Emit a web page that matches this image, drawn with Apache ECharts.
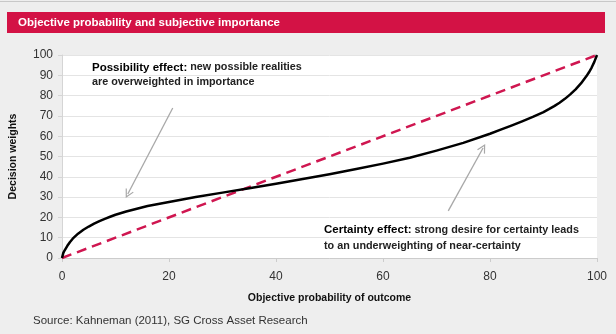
<!DOCTYPE html>
<html>
<head>
<meta charset="utf-8">
<script src="https://cdn.jsdelivr.net/npm/echarts@6/dist/echarts.min.js"></script>
<style>
html,body{margin:0;padding:0;background:#eeeeee;}
#c{width:616px;height:334px;}
</style>
</head>
<body>
<div id="c"></div>
<script>
// ---- data ----
var titleText = 'Objective probability and subjective importance';
var xAxisName = 'Objective probability of outcome';
var yAxisName = 'Decision weights';
var sourceText = 'Source: Kahneman (2011), SG Cross Asset Research';

var probX = [0, 0.25, 0.5, 1, 1.5, 2, 3, 4, 5, 6, 7, 8, 9, 10, 12, 14, 16, 18, 20, 25, 30, 35, 40, 45, 50, 55, 60, 65, 70, 75, 80, 82, 84, 86, 88, 90, 91, 92, 93, 94, 95, 96, 97, 98, 98.5, 99, 99.5, 100];
var weightY = [0, 2.5, 3.8, 6, 7.9, 9.5, 12, 13.9, 15.5, 16.9, 18.2, 19.3, 20.3, 21.3, 22.9, 24.3, 25.6, 26.6, 27.6, 30.0, 32.2, 34.4, 36.6, 38.9, 41.3, 43.8, 46.5, 49.4, 52.9, 56.7, 61.2, 63.2, 65.2, 67.3, 69.5, 71.9, 73.3, 74.8, 76.5, 78.4, 80.6, 83.1, 86.0, 89.5, 91.5, 93.8, 96.6, 100];
var diagX = [0, 100];
var diagY = [0, 100];

var possArrow = [[20.7, 73.9], [12.3, 31.5]];
var certArrow = [[72.2, 23.2], [78.7, 54.2]];

var possBold = 'Possibility effect:';
var possRest1 = ' new possible realities';
var possLine2 = 'are overweighted in importance';
var certBold = 'Certainty effect:';
var certRest1 = ' strong desire for certainty leads';
var certLine2 = 'to an underweighting of near-certainty';

// ---- chart ----
var sans = '"Liberation Sans", Arial, sans-serif';
var chart = echarts.init(document.getElementById('c'), null, {renderer: 'canvas'});

function pairs(xs, ys) { return xs.map(function (x, i) { return [x, ys[i]]; }); }

var chevron = 'path://M0,0 L5.5,10 L4.2,10.6 L0,3 L-4.2,10.6 L-5.5,10 Z';

function arrowLine(a) {
  return [
    {coord: a[0], symbol: 'none'},
    {coord: a[1], symbol: chevron, symbolSize: [9, 9]}
  ];
}

chart.setOption({
  backgroundColor: '#eeeeee',
  animation: false,
  grid: {left: 61, right: 19, top: 55, bottom: 76, show: true, backgroundColor: '#ffffff', borderWidth: 0},
  xAxis: {
    type: 'value', min: 0, max: 100, interval: 20,
    name: xAxisName, nameLocation: 'middle', nameGap: 35,
    nameTextStyle: {fontFamily: sans, fontWeight: 'bold', fontSize: 10.5, color: '#111'},
    axisLine: {show: true, lineStyle: {color: '#cccccc', width: 1}},
    axisTick: {show: true, length: 4, lineStyle: {color: '#cccccc'}},
    axisLabel: {color: '#333', fontSize: 12, margin: 13, fontFamily: sans},
    splitLine: {show: false}
  },
  yAxis: {
    type: 'value', min: 0, max: 100, interval: 10,
    name: yAxisName, nameLocation: 'middle', nameGap: 43, nameRotate: 90,
    nameTextStyle: {fontFamily: sans, fontWeight: 'bold', fontSize: 10.5, color: '#111'},
    axisLine: {show: true, lineStyle: {color: '#d5d5d5', width: 1}},
    axisTick: {show: true, length: 4, lineStyle: {color: '#d5d5d5'}},
    axisLabel: {color: '#333', fontSize: 12, margin: 9, fontFamily: sans},
    splitLine: {show: true, lineStyle: {color: '#e4e4e4', width: 1}}
  },
  series: [
    {
      name: 'Objective', type: 'line', data: pairs(diagX, diagY), showSymbol: false,
      lineStyle: {color: '#cf1650', width: 2.5, type: [10, 6]}, z: 2,
      silent: true
    },
    {
      name: 'Decision weights', type: 'line', data: pairs(probX, weightY), showSymbol: false,
      smooth: false, lineStyle: {color: '#000000', width: 2.5, join: 'round'}, z: 3,
      markLine: {
        silent: true, animation: false,
        lineStyle: {color: '#a8a8a8', width: 1.3, type: 'solid'},
        itemStyle: {color: '#a8a8a8'},
        label: {show: false},
        data: [arrowLine(possArrow), arrowLine(certArrow)]
      }
    }
  ],
  graphic: [
    {type: 'rect', shape: {x: 0, y: 1, width: 616, height: 1}, style: {fill: '#c8c8c8'}, silent: true},
    {type: 'rect', shape: {x: 7, y: 12, width: 598, height: 21}, style: {fill: '#d31245'}, silent: true},
    {type: 'text', x: 18, y: 22.5, style: {text: titleText, fill: '#ffffff', font: 'bold 11.5px ' + sans, textVerticalAlign: 'middle'}},
    {type: 'text', x: 92, y: 60, style: {
      text: '{b|' + possBold + '}{r|' + possRest1 + '}\n{r|' + possLine2 + '}',
      rich: {
        b: {font: 'bold 11.5px ' + sans, fill: '#000', lineHeight: 15},
        r: {font: 'bold 10.8px ' + sans, fill: '#222', lineHeight: 15}
      }
    }},
    {type: 'text', x: 324, y: 222, style: {
      text: '{b|' + certBold + '}{r|' + certRest1 + '}\n{r|' + certLine2 + '}',
      rich: {
        b: {font: 'bold 11.5px ' + sans, fill: '#000', lineHeight: 16},
        r: {font: 'bold 10.8px ' + sans, fill: '#222', lineHeight: 16}
      }
    }},
    {type: 'text', x: 33, y: 321, style: {text: sourceText, fill: '#333', font: '11.5px ' + sans, textVerticalAlign: 'middle'}}
  ]
});
</script>
</body>
</html>
